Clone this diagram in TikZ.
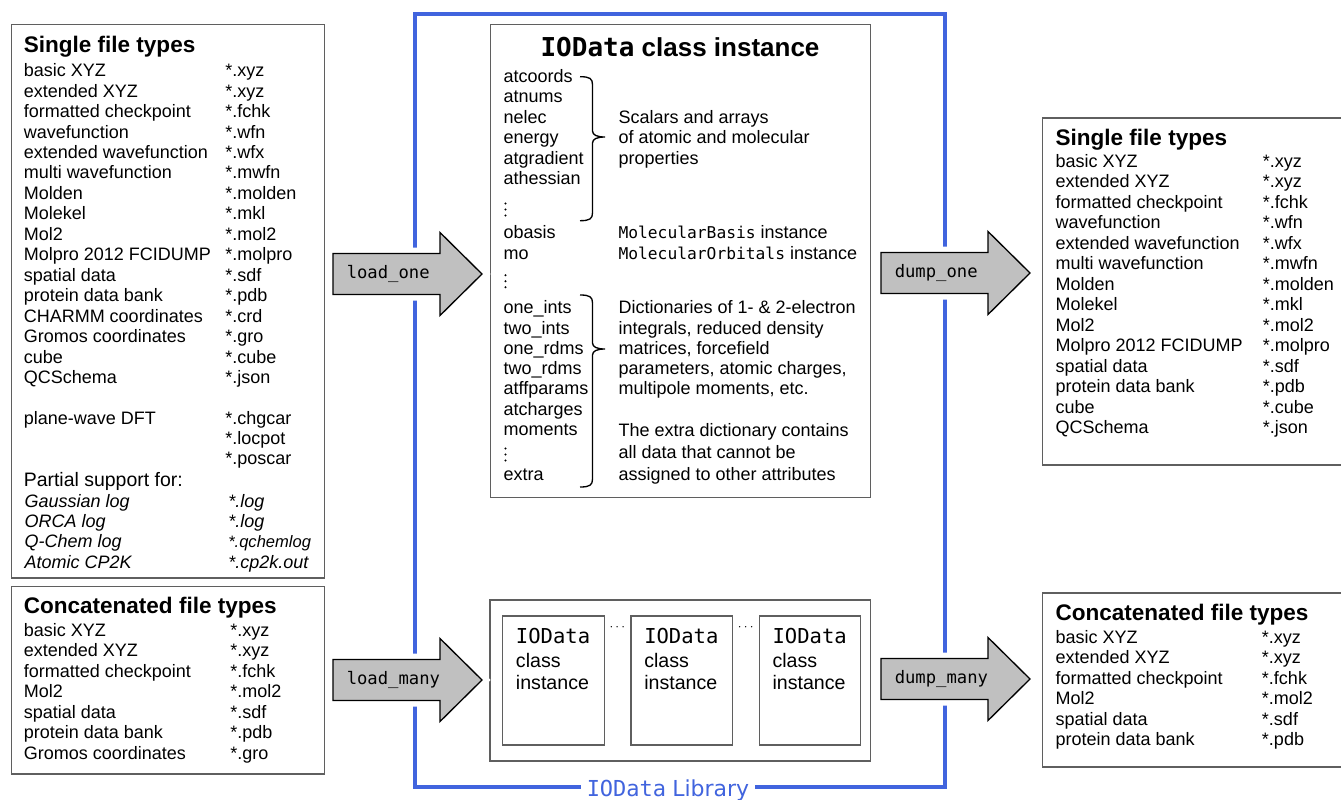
\documentclass[tikz,border=0pt]{standalone}
\usepackage{fontspec}
\setmainfont{Liberation Sans}
\setmonofont{DejaVu Sans Mono}
\newfontfamily\libfont{DejaVu Sans}
\definecolor{boxgray}{RGB}{95,95,95}
\definecolor{frameblue}{RGB}{65,100,222}
\definecolor{arrowgray}{RGB}{192,192,192}

\begin{document}
\begin{tikzpicture}[x=0.75pt, y=-0.75pt,
  box/.style = {draw=boxgray, line width=1pt},
  txt/.style = {anchor=base west, inner sep=0pt, font=\fontsize{13.5}{16}\selectfont},
  ttl/.style = {anchor=base west, inner sep=0pt, font=\fontsize{16.9}{20}\selectfont\bfseries},
  bigarrow/.style = {draw=black, fill=arrowgray, line width=1pt, preaction={draw=white, line width=9pt}},
  brc/.style = {draw=black, line width=1pt},
  libframe/.style = {draw=frameblue, line width=3pt}]
\useasboundingbox (0,0) rectangle (1341,799);

% library frame
\draw[libframe] (415,14) rectangle (945,787);

% left: single file types
\draw[box] (11.7,24.5) rectangle (324.3,578);
\node[ttl] (inone) at (23.5,52.3) {Single file types};
\foreach \nm/\ext [count=\i from 0] in {basic XYZ/*.xyz, extended XYZ/*.xyz, formatted checkpoint/*.fchk,
    wavefunction/*.wfn, extended wavefunction/*.wfx, multi wavefunction/*.mwfn, Molden/*.molden,
    Molekel/*.mkl, Mol2/*.mol2, Molpro 2012 FCIDUMP/*.molpro, spatial data/*.sdf, protein data bank/*.pdb,
    CHARMM coordinates/*.crd, Gromos coordinates/*.gro, cube/*.cube, QCSchema/*.json}{
  \node[txt] (ina\i) at (23.5,76.7+20.45*\i) {\nm};
  \node[txt] (inb\i) at (225,76.7+20.45*\i) {\ext};
}
\node[txt] (pw) at (23.5,424) {plane-wave DFT};
\node[txt] (pwa) at (225,424) {*.chgcar};
\node[txt] (pwb) at (225,444.3) {*.locpot};
\node[txt] (pwc) at (225,464.8) {*.poscar};
\node[txt, font=\fontsize{14.6}{16}\selectfont] (partial) at (23.5,486.7) {Partial support for:};
\foreach \nm/\ext [count=\i from 0] in {Gaussian log/*.log, ORCA log/*.log,
    Q-Chem log/{\fontsize{12.4}{14}\selectfont *.qchemlog}, Atomic CP2K/*.cp2k.out}{
  \node[txt, font=\fontsize{13.5}{16}\selectfont\itshape] (pta\i) at (24.3,507+20.45*\i) {\nm};
  \node[txt, font=\fontsize{13.5}{16}\selectfont\itshape] (ptb\i) at (228,507+20.45*\i) {\ext};
}

% left: concatenated file types
\draw[box] (11.7,586.7) rectangle (324.3,774);
\node[ttl] (inmany) at (23.5,613.3) {Concatenated file types};
\foreach \nm/\ext [count=\i from 0] in {basic XYZ/*.xyz, extended XYZ/*.xyz, formatted checkpoint/*.fchk,
    Mol2/*.mol2, spatial data/*.sdf, protein data bank/*.pdb, Gromos coordinates/*.gro}{
  \node[txt] (ima\i) at (23.5,636+20.55*\i) {\nm};
  \node[txt] (imb\i) at (230,636+20.55*\i) {\ext};
}

% middle: class instance
\draw[box] (490.5,24.7) rectangle (870.7,497.5);
\node[anchor=base, inner sep=0pt, font=\fontsize{19.5}{22}\selectfont\bfseries] (inst) at (680,56)
  {{\ttfamily IOData} class instance};
\foreach \y/\nm [count=\i] in {82.3/atcoords, 102.7/atnums, 123.3/nelec, 143.7/energy, 164/atgradient,
    184.5/athessian, 238.3/obasis, 259/mo, 313.3/one\_ints, 334/two\_ints, 354.3/one\_rdms,
    374.7/two\_rdms, 394.7/atffparams, 415.3/atcharges, 435.7/moments, 480/extra}
  \node[txt] (attr\i) at (503.3,\y) {\nm};
% vertical dots
\foreach \y in {215.5, 287.3, 460.5}
  \foreach \k in {0,1,2}
    \fill (505.5,\y-6*\k) circle[radius=0.85pt];
% braces
\foreach \t/\m/\b in {76.7/137/220.7, 295/349/487}
  \draw[brc] (580,\t) .. controls (590,\t) and (592.5,\t+2) .. (592.5,\t+8) -- (592.5,\m-6)
    .. controls (592.5,\m-2) and (597,\m) .. (605,\m) .. controls (597,\m) and (592.5,\m+2) .. (592.5,\m+6)
    -- (592.5,\b-8) .. controls (592.5,\b-2) and (590,\b) .. (580,\b);
\foreach \y/\t [count=\i] in {123.3/Scalars and arrays, 143.7/of atomic and molecular, 164/properties,
    313.3/Dictionaries of 1- \& 2-electron, 334/{integrals, reduced density}, 354.3/{matrices, forcefield},
    374.7/{parameters, atomic charges,}, 394.7/{multipole moments, etc.},
    436/The extra dictionary contains, 458/all data that cannot be, 480/assigned to other attributes}
  \node[txt] (desc\i) at (618.3,\y) {\t};
\node[txt] (obdesc) at (618.3,238.3) {{\fontsize{12.2}{16}\selectfont\ttfamily MolecularBasis} instance};
\node[txt] (modesc) at (618.3,259) {{\fontsize{12.2}{16}\selectfont\ttfamily MolecularOrbitals} instance};

% middle: list of instances
\draw[box] (490,600) rectangle (870.7,761);
\foreach \x [count=\i] in {502.7, 631, 759.3}{
  \draw[box] (\x,616) rectangle ++(101.5,129);
  \node[anchor=base west, inner sep=0pt, font=\fontsize{15.4}{18}\selectfont\ttfamily] (many\i) at (\x+13,643.3) {IOData};
  \node[anchor=base west, inner sep=0pt, font=\fontsize{14.7}{18}\selectfont] (cls\i) at (\x+13,667.3) {class};
  \node[anchor=base west, inner sep=0pt, font=\fontsize{14.7}{18}\selectfont] (ins\i) at (\x+13,689.3) {instance};
}
\node[inner sep=0pt, font=\fontsize{10}{12}\selectfont] (dots1) at (617.3,627.5) {$\cdots$};
\node[inner sep=0pt, font=\fontsize{10}{12}\selectfont] (dots2) at (745.7,627.5) {$\cdots$};

% right: single file types
\draw[box] (1042.5,118) rectangle (1350,465);
\node[ttl] (outone) at (1055.3,145) {Single file types};
\foreach \nm/\ext [count=\i from 0] in {basic XYZ/*.xyz, extended XYZ/*.xyz, formatted checkpoint/*.fchk,
    wavefunction/*.wfn, extended wavefunction/*.wfx, multi wavefunction/*.mwfn, Molden/*.molden,
    Molekel/*.mkl, Mol2/*.mol2, Molpro 2012 FCIDUMP/*.molpro, spatial data/*.sdf, protein data bank/*.pdb,
    cube/*.cube, QCSchema/*.json}{
  \node[txt] (oua\i) at (1055.3,167.3+20.5*\i) {\nm};
  \node[txt] (oub\i) at (1262.5,167.3+20.5*\i) {\ext};
}

% right: concatenated file types
\draw[box] (1042.7,593) rectangle (1350,767);
\node[ttl] (outmany) at (1055.3,620.7) {Concatenated file types};
\foreach \nm/\ext [count=\i from 0] in {basic XYZ/*.xyz, extended XYZ/*.xyz, formatted checkpoint/*.fchk,
    Mol2/*.mol2, spatial data/*.sdf, protein data bank/*.pdb}{
  \node[txt] (oma\i) at (1055.3,643.3+20.5*\i) {\nm};
  \node[txt] (omb\i) at (1261.7,643.3+20.5*\i) {\ext};
}

% load / dump arrows
\foreach \nm/\x/\y/\lbl in {loadone/333/274/load\_one, loadmany/333/680/load\_many,
    dumpone/881/273/dump\_one, dumpmany/881/679/dump\_many}{
  \draw[bigarrow] (\x,\y-20.5) -- ++(107,0) -- ++(0,-21) -- ++(42,41.5) -- ++(-42,41.5)
    -- ++(0,-21) -- ++(-107,0) -- cycle;
  \node[anchor=west, inner sep=0pt, font=\fontsize{12.9}{16}\selectfont\ttfamily] (\nm) at (\x+13.5,\y) {\lbl};
}

\node[anchor=base, fill=white, inner xsep=4.5pt, inner ysep=2pt, text=frameblue,
  font=\fontsize{16.5}{20}\selectfont] (lib) at (668,796) {{\ttfamily IOData} {\libfont Library}};
\end{tikzpicture}
\end{document}
